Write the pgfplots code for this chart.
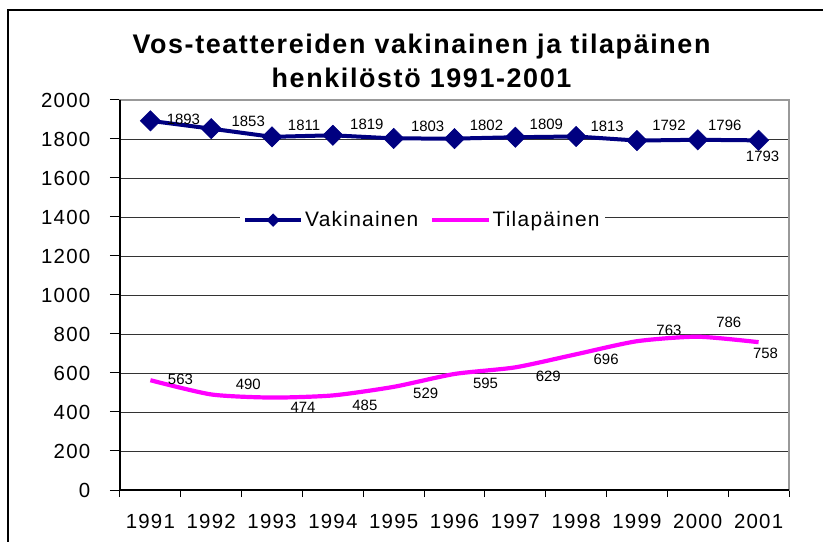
\documentclass[border=0pt]{standalone}
\usepackage{fontspec}
\setmainfont{Liberation Sans}[LetterSpace=6]
\newfontfamily\lblfont{Liberation Sans}
\usepackage{pgfplots}
\pgfplotsset{compat=1.18}
\usepackage{pgfplotstable}
\definecolor{navyc}{RGB}{0,0,128}
\definecolor{magc}{RGB}{255,0,255}

\pgfplotstableread{
x y dx dy
0 1893 33 2
1 1853 37 7
2 1811 32 11
3 1819 34 11
4 1803 34 12
5 1802 32 13
6 1809 31 13
7 1813 31 10
8 1792 32 15
9 1796 27 14
10 1793 4 -16
}\vak

\pgfplotstableread{
x y dx dy
0 563 30 1
1 490 37 10
2 474 31 -10
3 485 32 -10
4 529 32 -7
5 595 31 -9
6 629 33 -9
7 696 30 -5
8 763 32 11
9 786 31 14
10 758 7 -11
}\tila

\begin{document}
\begin{tikzpicture}
\useasboundingbox (-120bp,-52bp) rectangle (703bp,490bp);
\draw[line width=1.2bp] (-112bp,-60bp) -- (-112bp,480bp) -- (710bp,480bp);
\begin{axis}[
  at={(0,0)}, anchor=south west,
  scale only axis, width=669bp, height=390bp,
  xmin=-0.5, xmax=10.5, ymin=0, ymax=2000,
  xtick={-0.5,0.5,...,10.5},
  x tick label as interval,
  xticklabels={1991,1992,1993,1994,1995,1996,1997,1998,1999,2000,2001},
  ytick={0,200,...,2000},
  ymajorgrids,
  grid style={draw=black!80, line width=0.9bp},
  tick pos=left, tick align=outside,
  xtick style={/pgfplots/major tick length=7bp, black, line width=1bp},
  ytick style={/pgfplots/major tick length=10bp, black, line width=1bp},
  axis line style={draw=black!40, line width=1.5bp},
  /pgf/number format/assume math mode=true,
  /pgf/number format/1000 sep={},
  ticklabel style={font=\fontsize{20.5}{24}\selectfont},
  yticklabel style={anchor=east, xshift=-22bp},
  xticklabel style={yshift=-16bp},
  clip=false,
  title={Vos-teattereiden vakinainen ja tilapäinen\\henkilöstö 1991-2001},
  title style={at={(0.4507,1.084)}, anchor=center, align=center,
    font=\bfseries\fontsize{27}{34}\selectfont},
  legend style={at={(0.452,0.692)}, anchor=center, draw=none, fill=white,
    legend columns=2, font=\fontsize{21}{24}\selectfont,
    /tikz/every even column/.append style={column sep=10bp}},
  legend image code/.code={%
    \draw[#1, mark repeat=2, mark phase=2, every mark/.append style={scale=0.62}]
      plot coordinates {(0bp,0bp) (28bp,0bp) (56bp,0bp)};},
  visualization depends on={\thisrow{dx} \as \dx},
  visualization depends on={\thisrow{dy} \as \dy},
  nodes near coords,
  every node near coord/.append style={anchor=center, xshift=\dx bp, yshift=\dy bp,
    font=\lblfont\fontsize{15}{17}\selectfont, text=black},
  after end axis/.code={
    \draw[black, line width=1.5bp] (rel axis cs:0,1) -- (rel axis cs:0,0) -- (rel axis cs:1,0);
  },
]
\addplot[navyc, line width=4bp, mark=square*, mark size=7.2bp,
  mark options={rotate=45, fill=navyc, draw=navyc, line width=0.5bp}]
  table[x=x, y=y] {\vak};
\addlegendentry{Vakinainen}
\addplot[magc, line width=4.2bp, no markers, smooth, tension=0.4]
  table[x=x, y=y] {\tila};
\addlegendentry{Tilapäinen}
\end{axis}
\end{tikzpicture}
\end{document}
